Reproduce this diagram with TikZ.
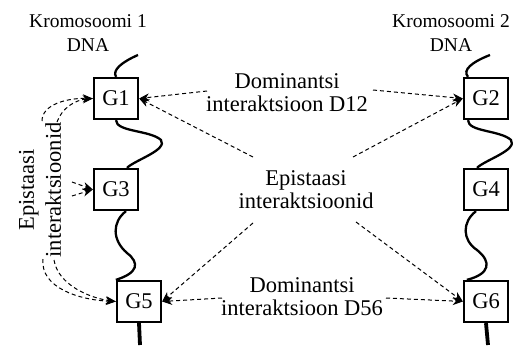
\documentclass[tikz,border=0pt]{standalone}
\usepackage{fontspec}
\setmainfont{Liberation Serif}
\usetikzlibrary{arrows.meta,calc}
\begin{document}
\begin{tikzpicture}[x=1pt,y=-1pt,
  gene/.style={draw,line width=1.8pt,minimum width=44.5pt,minimum height=41.5pt,inner sep=0pt,font=\fontsize{22.5}{23}\selectfont},
  lbl/.style={align=center,inner sep=0pt,font=\fontsize{22.5}{23}\selectfont},
  rotlbl/.style={align=center,inner sep=0pt,rotate=90,font=\fontsize{22.5}{27}\selectfont},
  chrlbl/.style={align=center,inner sep=0pt,font=\fontsize{19.5}{24}\selectfont},
  dna/.style={line width=2.3pt},
  dnaend/.style={line width=3.8pt},
  rel/.style={line width=1pt,dash pattern=on 4pt off 3pt,-{Stealth[length=10pt,width=8pt,inset=3pt]}}
]
\useasboundingbox (0,0) rectangle (513,345);

% genes
\node[gene] (G1) at (116,98.5) {G1};
\node[gene] (G3) at (116,189.5) {G3};
\node[gene] (G5) at (139,301.5) {G5};
\node[gene] (G2) at (486,98.5) {G2};
\node[gene] (G4) at (486,189.5) {G4};
\node[gene] (G6) at (486,301.5) {G6};

% labels
\node[chrlbl] (K1) at (88,33.5) {Kromosoomi 1\\DNA};
\node[chrlbl] (K2) at (451,33.5) {Kromosoomi 2\\DNA};
\node[lbl] (D12) at (287,92.8) {Dominantsi\\interaktsioon D12};
\node[lbl] (EPI) at (306,189.5) {Epistaasi\\interaktsioonid};
\node[lbl] (D56) at (302,296.5) {Dominantsi\\interaktsioon D56};
\node[rotlbl] (EPL) at (40,190) {Epistaasi\\interaktsioonid};

% chromosome ends
\coordinate (c1top) at (138,55);
\coordinate (c1bot) at (140,345);
\coordinate (c2top) at (490,55);
\coordinate (c2bot) at (488,345);

% chromosome 1
\draw[dna] (c1top) .. controls (122,62) and (112,70) .. (G1.north);
\draw[dna] (G1.south) .. controls (116,132) and (150,130) .. (161,140)
  .. controls (168,150) and (135,160) .. ([xshift=11pt]G3.north);
\draw[dna] ([xshift=10pt]G3.south) .. controls (112,222) and (112,240) .. (127,253)
  .. controls (140,263) and (138,273) .. (G5.north west);
\draw[dnaend] (G5.south) -- (c1bot);

% chromosome 2
\draw[dna] (c2top) .. controls (472,62) and (462,70) .. ([xshift=-18pt]G2.north);
\draw[dna] ([xshift=-18pt]G2.south) .. controls (468,132) and (500,130) .. (511,140)
  .. controls (518,150) and (485,160) .. ([xshift=-9pt]G4.north);
\draw[dna] ([xshift=-10pt]G4.south) .. controls (462,222) and (462,240) .. (477,250)
  .. controls (492,262) and (490,274) .. ([xshift=4pt]G6.north west);
\draw[dnaend] (G6.south) -- (c2bot);

% arrow start points
\coordinate (d12l) at (207,91);
\coordinate (d12r) at (373,90);
\coordinate (epul) at (253,157);
\coordinate (epur) at (353,157);
\coordinate (epdl) at (253,223);
\coordinate (epdr) at (356,222);
\coordinate (d56l) at (222,298);
\coordinate (d56r) at (386,298);
\coordinate (e1a) at (42,121);
\coordinate (e1b) at (57,122);
\coordinate (e3a) at (72,182);
\coordinate (e3b) at (72,196);
\coordinate (e5a) at (43,259);
\coordinate (e5b) at (54,260);

% interactions
\draw[rel] (d12l) -- (G1.east);
\draw[rel] (d12r) -- (G2.west);
\draw[rel] (epul) -- (G1.east);
\draw[rel] (epur) -- (G2.west);
\draw[rel] (epdl) -- (G5.east);
\draw[rel] (epdr) -- (G6.west);
\draw[rel] (d56l) -- (G5.east);
\draw[rel] (d56r) -- (G6.west);

\draw[rel] (e1a) .. controls (42,104) and (68,98) .. (G1.west);
\draw[rel] (e1b) .. controls (62,108) and (75,100) .. (G1.west);
\draw[rel] (e3a) -- (G3.west);
\draw[rel] (e3b) -- (G3.west);
\draw[rel] (e5a) .. controls (40,288) and (80,300) .. (G5.west);
\draw[rel] (e5b) .. controls (58,285) and (90,298) .. (G5.west);
\end{tikzpicture}
\end{document}
